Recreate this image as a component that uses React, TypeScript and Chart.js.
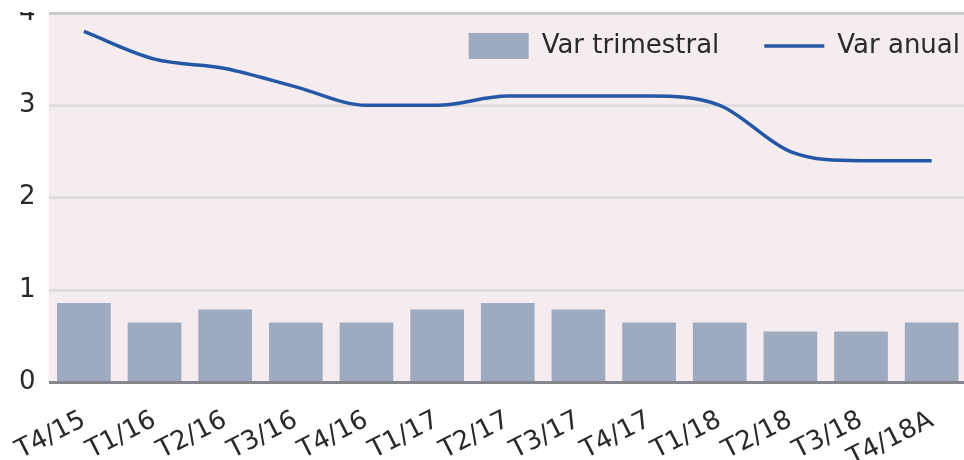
import React, { useEffect, useRef } from "react";
import { Chart, registerables } from "chart.js";

Chart.register(...registerables);

// ---- data ----
const categories = ["T4/15", "T1/16", "T2/16", "T3/16", "T4/16", "T1/17", "T2/17", "T3/17", "T4/17", "T1/18", "T2/18", "T3/18", "T4/18A"];
const varTrimestral = [0.86, 0.65, 0.79, 0.65, 0.65, 0.79, 0.86, 0.79, 0.65, 0.65, 0.55, 0.55, 0.65];
const varAnual = [3.8, 3.5, 3.4, 3.2, 3.0, 3.0, 3.1, 3.1, 3.1, 3.0, 2.5, 2.4, 2.4];
const seriesNames = ["Var trimestral", "Var anual"];
const yMin = 0;
const yMax = 4;
const yStep = 1;

// ---- style ----
const FONT = "'DejaVu Sans', Verdana, sans-serif";
const TEXT = "#2a2a2a";
const PLOT_BG = "#f5ecf0";
const BAR = "#9daac0";
const LINE = "#2457a6";
const CANVAS_W = 990;
const CANVAS_H = 502;
const CANVAS_TOP = -25;
const LEGEND_NUDGE_X = 38;
const LEGEND_NUDGE_Y = -25;

const plotBackground = {
  id: "plotBackground",
  beforeDraw(chart: any) {
    const { ctx, chartArea } = chart;
    if (!chartArea) return;
    ctx.save();
    ctx.fillStyle = PLOT_BG;
    ctx.fillRect(chartArea.left, chartArea.top, chartArea.right - chartArea.left, chartArea.bottom - chartArea.top);
    ctx.restore();
  },
};

// legend drawn over the plot area instead of taking room above it
const legendOverlay = {
  id: "legendOverlay",
  afterInit(chart: any) {
    const lg = chart.legend;
    if (!lg || lg._patched) return;
    lg._patched = true;
    const fit = lg.fit.bind(lg);
    lg.fit = () => {
      fit();
      lg._realHeight = lg.height;
      lg.height = 0;
    };
  },
  afterLayout(chart: any) {
    const lg = chart.legend;
    if (!lg) return;
    const h = lg._realHeight || 0;
    lg.height = h;
    lg.left += LEGEND_NUDGE_X;
    lg.right += LEGEND_NUDGE_X;
    lg.top += LEGEND_NUDGE_Y;
    lg.bottom = lg.top + h;
  },
};

export default function App() {
  const ref = useRef<HTMLCanvasElement | null>(null);

  useEffect(() => {
    if (!ref.current) return;
    const chart = new Chart(ref.current, {
      type: "bar",
      data: {
        labels: categories,
        datasets: [
          {
            type: "bar",
            label: seriesNames[0],
            data: varTrimestral,
            backgroundColor: BAR,
            borderWidth: 0,
            barPercentage: 0.76,
            categoryPercentage: 1,
            pointStyle: "rect",
            order: 2,
          } as any,
          {
            type: "line",
            label: seriesNames[1],
            data: varAnual,
            borderColor: LINE,
            backgroundColor: LINE,
            borderWidth: 3.5,
            pointRadius: 0,
            pointHoverRadius: 0,
            pointStyle: "line",
            cubicInterpolationMode: "monotone",
            order: 1,
          } as any,
        ],
      },
      options: {
        animation: false,
        responsive: false,
        devicePixelRatio: 1,
        layout: { padding: { left: 6, right: 23, top: 0, bottom: 0 } },
        scales: {
          x: {
            grid: { display: false },
            border: { display: false },
            afterFit: (s: any) => {
              s.paddingLeft = 0;
              s.paddingRight = 0;
            },
            ticks: {
              autoSkip: false,
              minRotation: 27,
              maxRotation: 27,
              padding: 14.5,
              color: TEXT,
              font: { family: FONT, size: 26 },
            },
          },
          y: {
            min: yMin,
            max: yMax,
            border: { display: false },
            grid: {
              drawTicks: false,
              lineWidth: 3,
              color: (c: any) =>
                c.tick && c.tick.value === yMin ? "#85858c" : c.tick && c.tick.value === yMax ? "#cccccc" : "#e2dde0",
            },
            ticks: {
              stepSize: yStep,
              padding: 13,
              color: TEXT,
              font: { family: FONT, size: 26, lineHeight: 1 },
            },
          },
        },
        plugins: {
          legend: {
            position: "top",
            align: "end",
            labels: {
              usePointStyle: true,
              pointStyleWidth: 60,
              boxHeight: 27,
              padding: 45,
              color: TEXT,
              font: { family: FONT, size: 26 },
              sort: (a: any, b: any) => a.datasetIndex - b.datasetIndex,
            },
          },
          tooltip: { enabled: false },
        },
      },
      plugins: [plotBackground, legendOverlay],
    } as any);
    return () => chart.destroy();
  }, []);

  return (
    <div
      style={{
        position: "fixed",
        left: 0,
        top: 12,
        width: 964,
        height: 448,
        overflow: "hidden",
        background: "#ffffff",
      }}
    >
      <canvas
        ref={ref}
        width={CANVAS_W}
        height={CANVAS_H}
        style={{ position: "absolute", left: 0, top: CANVAS_TOP, width: CANVAS_W, height: CANVAS_H }}
      />
    </div>
  );
}
